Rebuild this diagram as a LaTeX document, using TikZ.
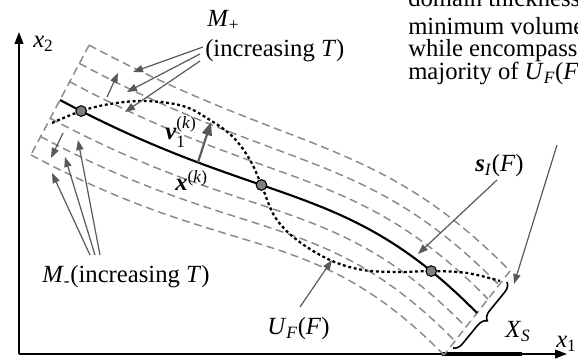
\documentclass[tikz,border=0pt]{standalone}
\usepackage{amsmath}
\usepackage{fontspec}
\setmainfont{Liberation Serif}
\usetikzlibrary{arrows.meta,calc,decorations.pathreplacing,positioning}

\definecolor{bandGray}{HTML}{8A8A8A}
\definecolor{ptrGray}{HTML}{595959}
\definecolor{dotGray}{HTML}{7F7F7F}

\tikzset{
  band/.style={bandGray, line width=1.1pt, dash pattern=on 6pt off 3.5pt},
  centre/.style={black, line width=1.6pt},
  uband/.style={black, line width=1.7pt, dash pattern=on 2.2pt off 2pt},
  pt/.style={circle, draw=black, fill=dotGray, line width=0.8pt, inner sep=0pt, minimum size=8pt},
  pointer/.style={ptrGray, line width=0.9pt, -{Triangle[length=7.5pt, width=5.5pt]}},
  bigpointer/.style={ptrGray, line width=1.6pt, -{Triangle[length=10pt, width=7.5pt]}},
  axis/.style={black, line width=1.4pt, -{Triangle[length=9pt, width=6.5pt]}},
  lbl/.style={font=\fontsize{18.5}{22}\selectfont, inner sep=0pt, anchor=base west},
  noteline/.style={lbl, text height=9pt, text depth=1pt},
  xsbrace/.style={decorate, decoration={brace, amplitude=7pt}, black, line width=1.2pt}
}

\begin{document}
\begin{tikzpicture}[x=0.75pt, y=-0.75pt]
  \path[use as bounding box] (0,0) rectangle (578,359);
  \clip (0,0) rectangle (578,359);

  % axes
  \coordinate (O) at (19,354);
  \coordinate (ytip) at (19,32);
  \coordinate (xtip) at (567,354);
  \coordinate (xsa) at (442,354);
  \coordinate (xsb) at (522,354);
  \draw[axis] (O) -- (ytip);
  \draw[axis] (O) -- (xtip);
  \draw[black, line width=3pt] (xsa) -- (xsb);

  % band of level curves
  \coordinate (P0) at (60,100);
  \coordinate (P1) at (266,210);
  \coordinate (P2) at (344,178);
  \coordinate (P3) at (477,313);
  \coordinate (N0) at (9.7,-18.3);
  \coordinate (N3) at (11,-14);
  \foreach \k in {-3,-2,-1,1,2,3}
    \draw[band] ($(P0)+\k*(N0)$) .. controls ($(P1)+\k*(N0)$) and ($(P2)+\k*(N3)$) .. ($(P3)+\k*(N3)$);
  \draw[band] ($(P0)+3*(N0)$) -- ($(P0)-3*(N0)$);
  \draw[band] ($(P3)+3*(N3)$) -- ($(P3)-3*(N3)$);

  % s_I(F)
  \draw[centre] (P0) .. controls (P1) and (P2) .. (P3)
    coordinate[pos=0.035] (pa) coordinate[pos=0.41] (pb) coordinate[pos=0.88] (pc)
    coordinate[pos=0.26] (vfoot);

  % U_F(F)
  \coordinate (ua) at (52,123);
  \coordinate (ub) at (500,281);
  \draw[uband] plot[smooth, tension=0.6] coordinates {(ua) (pa) (110,104) (145,101) (183,106) (210,120) (233,137) (250,160) (pb) (275,217) (297,240) (330,260) (363,270) (400,272) (pc) (467,273) (ub)};

  \foreach \p in {pa,pb,pc}
    \node[pt] (dot-\p) at (\p) {};

  % labels
  \node[lbl] (xtwo) at (33,48) {\textit{x}\textsubscript{2}};
  \node[lbl] (xone) at (556,348) {\textit{x}\textsubscript{1}};
  \node[lbl] (mplus) at (207,27) {\textit{M}\textsubscript{+}};
  \node[lbl] (incp) at (205,57) {(increasing \textit{T})};
  \node[lbl] (mminus) at (42,283) {\textit{M}\textsubscript{-}(increasing \textit{T})};
  \node[lbl] (uf) at (267,335) {\textit{U}\textsubscript{\textit{F}}(\textit{F})};
  \node[lbl] (sl) at (475,172) {\textbf{\textit{s}}\textsubscript{\textit{I}}(\textit{F})};
  \node[lbl] (xs) at (505,338) {\textit{X}\textsubscript{\textit{S}}};
  \node[lbl] (vk) at (165,140) {$\text{\textbf{\textit{v}}}_{\text{1}}^{\text{(\textit{k})}}$};
  \node[lbl] (xk) at (175,191) {\textbf{\textit{x}}\textsuperscript{(\textit{k})}};
  \node[noteline] (tdom) at (408,7) {domain thickness};
  \node[noteline] (tmin) at (408,35) {minimum volume};
  \node[noteline] (twhl) at (408,57) {while encompass};
  \node[noteline] (tmaj) at (408,80) {majority of \textit{U}\textsubscript{\textit{F}}(\textit{F})};

  % pointers
  \coordinate (mpt1) at (203,47);
  \coordinate (mpt2) at (200,54);
  \coordinate (mpt3) at (200,61);
  \coordinate (mph1) at (133,72);
  \coordinate (mph2) at (127,92);
  \coordinate (mph3) at (125,112);
  \draw[pointer] (mpt1) -- (mph1);
  \draw[pointer] (mpt2) -- (mph2);
  \draw[pointer] (mpt3) -- (mph3);
  \coordinate (upa) at (107,97);
  \coordinate (upb) at (118,73);
  \draw[pointer] (upa) -- (upb);
  \coordinate (dna) at (63,133);
  \coordinate (dnb) at (51,158);
  \draw[pointer] (dna) -- (dnb);
  \coordinate (mmt1) at (90,255);
  \coordinate (mmt2) at (95,255);
  \coordinate (mmt3) at (100,255);
  \coordinate (mmh1) at (52,173);
  \coordinate (mmh2) at (65,157);
  \coordinate (mmh3) at (78,140);
  \draw[pointer] (mmt1) -- (mmh1);
  \draw[pointer] (mmt2) -- (mmh2);
  \draw[pointer] (mmt3) -- (mmh3);
  \coordinate (vtip) at (211,122);
  \draw[bigpointer] (vfoot) -- (vtip);
  \coordinate (ufa) at (300,307);
  \coordinate (ufb) at (332,260);
  \draw[pointer] (ufa) -- (ufb);
  \coordinate (sla) at (497,180);
  \coordinate (slb) at (418,254);
  \draw[pointer] (sla) -- (slb);
  \coordinate (mja) at (557,145);
  \coordinate (mjb) at (514,284);
  \draw[pointer] (mja) -- (mjb);

  % X_S brace
  \coordinate (bra) at (507,282);
  \coordinate (brb) at (453,348);
  \draw[xsbrace] (bra) -- (brb);
\end{tikzpicture}
\end{document}
